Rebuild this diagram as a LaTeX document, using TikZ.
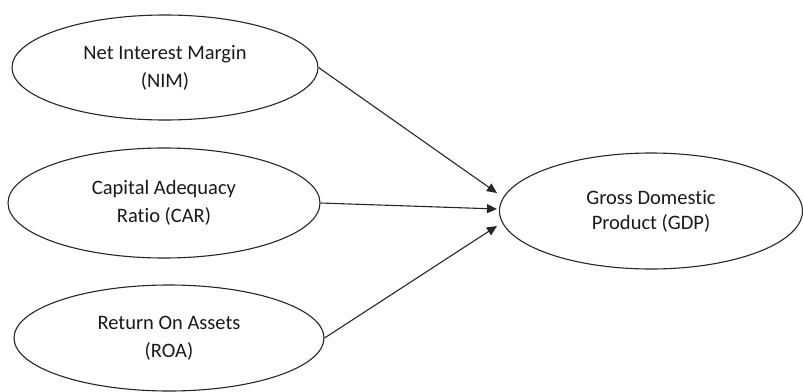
\documentclass[tikz,border=0pt]{standalone}
\usepackage{fontspec}
\setmainfont[Ligatures={NoCommon}]{Carlito}
\usetikzlibrary{shapes.geometric,arrows.meta,calc}
\tikzset{
  var/.style={draw=black!85, line width=1.1pt, ellipse, inner sep=0pt, align=center,
    font=\fontsize{20.5}{28}\selectfont, text=black!90},
  link/.style={draw=black!85, line width=1.1pt, -{Triangle[length=10pt,width=9pt]}}
}
\begin{document}
\begin{tikzpicture}[x=1pt,y=-1pt]
\useasboundingbox (0,0) rectangle (803,391);
\node[var, minimum width=306pt, minimum height=105pt] (nim) at (165,67.5) {Net Interest Margin\\(NIM)};
\node[var, minimum width=312pt, minimum height=110pt] (car) at (164,203) {Capital Adequacy\\Ratio (CAR)};
\node[var, minimum width=310pt, minimum height=106pt] (roa) at (169,338) {Return On Assets\\(ROA)};
\node[var, minimum width=303pt, minimum height=116pt] (gdp) at (651,211) {\raisebox{6pt}{\begin{tabular}{@{}c@{}}Gross Domestic\\[-3pt]Product (GDP)\end{tabular}}};
\coordinate (t1) at ($(gdp.west)+(-2,-18)$);
\coordinate (t2) at ($(gdp.west)+(-2,-2)$);
\coordinate (t3) at ($(gdp.west)+(-2,15)$);
\draw[link] (nim.east) -- (t1);
\draw[link] (car.east) -- (t2);
\draw[link] (roa.east) -- (t3);
\end{tikzpicture}
\end{document}
